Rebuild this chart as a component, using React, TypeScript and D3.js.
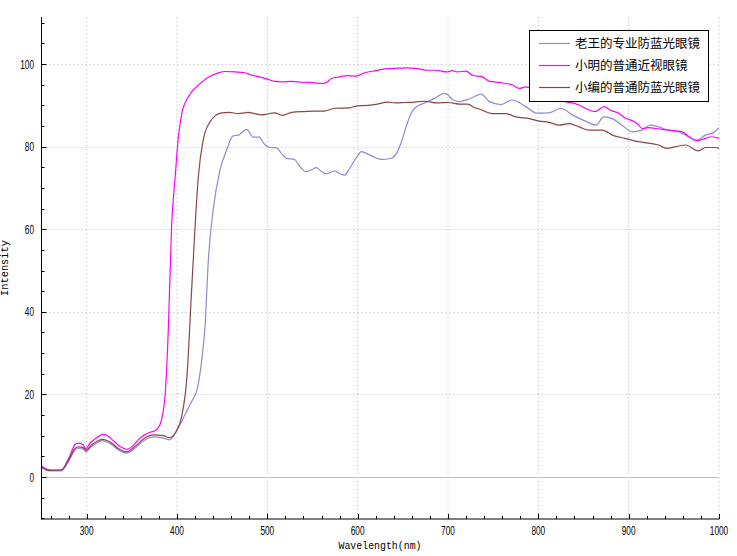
import React from "react";
import * as d3 from "d3";

const W = 737;
const H = 556;

const seriesNames = ["老王的专业防蓝光眼镜", "小明的普通近视眼镜", "小编的普通防蓝光眼镜"];
const seriesColors = ["#8c8cd0", "#ff00ff", "#8a4646"];

const xTicks = [300, 400, 500, 600, 700, 800, 900, 1000];
const yTicks = [0, 20, 40, 60, 80, 100];

// 老王的专业防蓝光眼镜
const laowangWl = [250, 255, 260, 272, 280, 287, 291, 297, 299, 305, 311, 317, 326, 335, 344, 353, 364, 374, 385, 392, 398, 405, 412, 418, 422, 427.4, 431, 434.7, 440, 447.6, 455, 462, 468, 477, 484.5, 491, 496, 503, 510, 516, 521, 530, 536, 543, 549, 554, 560, 565, 570, 574.5, 580, 585.5, 590, 594.7, 600, 604, 613, 620, 626, 637, 644, 649, 653.6, 658, 663, 674, 685, 696, 700, 705, 712.5, 721.6, 729, 736.5, 746, 758.5, 771, 786, 799, 812, 825, 837.6, 854, 863.6, 872.5, 881.7, 892.7, 903.7, 914.8, 924, 933, 944, 955, 966, 975.5, 984.8, 994, 1000];
const laowangVal = [2.3, 1.7, 1.5, 1.5, 3.8, 6.5, 6.9, 6.7, 6.1, 7.3, 8.2, 8.8, 8.1, 6.6, 5.8, 6.9, 8.9, 9.7, 9.4, 9.0, 10.6, 13.4, 16.5, 19.0, 21, 28.3, 36.4, 52.5, 64.6, 74.3, 79.2, 82.6, 82.8, 84.2, 82.3, 82.3, 80.8, 79.8, 79.7, 78.3, 77.2, 76.9, 75.2, 73.9, 74.4, 74.9, 74.0, 73.4, 73.8, 74.1, 73.5, 73.1, 74.3, 76, 77.8, 78.8, 78.0, 77.3, 76.9, 77.2, 78.8, 81.5, 84.8, 87.5, 89.3, 90.6, 91.7, 92.9, 92.5, 91.4, 90.9, 91.4, 92.1, 92.7, 90.9, 90.2, 91.3, 89.7, 88.1, 88.2, 89.3, 87.7, 86.0, 85.2, 87.2, 86.8, 85.2, 83.6, 84.0, 85.2, 84.8, 84.0, 83.6, 82.4, 81.6, 82.8, 83.4, 84.6];

// 小明的普通近视眼镜
const xiaomingWl = [250, 255, 260, 272, 280, 287, 291, 296, 299, 304, 310, 318, 323, 330, 337, 344, 350, 357, 364, 370, 377, 381, 384, 387, 390.5, 394, 398, 401.5, 405.3, 412.6, 423.6, 434.7, 445, 453, 465, 475, 483, 491, 501, 508, 516, 527, 538, 550, 562, 566, 571, 580, 589, 598, 608, 620, 633, 645, 655, 666, 677, 688, 698, 705, 710, 720, 727, 738, 746, 751, 764, 771, 779, 786, 795, 805, 815, 825, 830, 838, 845, 855, 863, 873, 880, 889, 897, 904, 910, 915, 922, 930, 944, 952, 959, 966, 975, 985, 992, 1000];
const xiaomingVal = [2.7, 2.0, 1.7, 1.7, 4.5, 7.8, 8.2, 7.8, 6.8, 8.3, 9.3, 10.3, 10.0, 8.7, 7.4, 6.7, 7.3, 9.0, 10.2, 10.8, 11.4, 12.6, 15, 20.3, 36.4, 60.6, 72.7, 82.4, 88, 92.1, 94.9, 96.8, 97.8, 98.2, 98.1, 97.9, 97.3, 96.9, 96.3, 95.8, 95.7, 95.8, 95.6, 95.5, 95.3, 95.6, 96.5, 96.9, 97.2, 97.1, 97.9, 98.4, 98.9, 99.0, 99.1, 98.9, 98.5, 98.5, 98.1, 98.4, 98.1, 98.3, 97.3, 96.9, 95.8, 95.7, 95.3, 95.0, 94.1, 94.5, 93.8, 93.0, 92.3, 91.4, 90.9, 90.6, 90.1, 89.0, 88.5, 89.7, 88.8, 88.1, 86.8, 86.3, 85.5, 84.4, 84.6, 84.4, 84.0, 83.8, 83.6, 82.6, 81.4, 82.0, 82.4, 82.0];

// 小编的普通防蓝光眼镜
const xiaobianWl = [250, 255, 260, 272, 280, 287, 291, 297, 299, 305, 311, 317, 326, 335, 344, 353, 364, 374, 385, 392, 399, 405, 411, 416, 420, 423.6, 429, 436.5, 443, 449.5, 458, 468, 475, 479, 486, 494, 500, 508, 517, 527, 541, 552, 563, 574, 591, 600, 611, 622, 633, 642, 652, 663, 674, 688, 700, 714, 722, 729, 736, 749, 764, 775, 790, 801, 812, 823, 834, 845, 856, 871, 882, 896, 911, 924, 933, 942, 952, 963, 977, 985, 996, 1000];
const xiaobianVal = [2.4, 1.8, 1.6, 1.7, 4.1, 6.9, 7.3, 7.0, 6.4, 7.7, 8.6, 9.1, 8.5, 6.9, 6.1, 7.3, 9.4, 10.2, 10.0, 9.5, 11.0, 14.5, 24.3, 44.5, 60.6, 72.7, 81.6, 86, 87.6, 88.2, 88.3, 88.0, 88.2, 88.3, 88.0, 87.7, 87.9, 88.2, 87.6, 88.3, 88.5, 88.6, 88.6, 89.3, 89.4, 89.9, 90.0, 90.3, 90.8, 90.6, 90.7, 90.8, 91.0, 90.6, 90.7, 90.3, 90.3, 89.5, 89.0, 88.0, 88.0, 87.2, 86.8, 86.2, 85.9, 85.2, 85.6, 84.8, 84.0, 84.0, 82.8, 82.0, 81.2, 80.8, 80.4, 79.6, 80.0, 80.4, 79.0, 79.8, 79.8, 79.6];

const seriesWl = [laowangWl, xiaomingWl, xiaobianWl];
const seriesVal = [laowangVal, xiaomingVal, xiaobianVal];

export default function App() {
  const left = 41.5;
  const right = 719;
  const top = 17;
  const bottom = 519;
  const x = d3.scaleLinear().domain([250, 1000]).range([left, right]);
  const y = d3.scaleLinear().domain([-10.17, 111.4]).range([bottom, top]);

  const xMinor = d3.range(260, 1001, 20).filter((v) => v % 100 !== 0);
  const yMinor = d3.range(-10, 111, 5).filter((v) => v % 20 !== 0);

  const line = d3
    .line<[number, number]>()
    .x((d) => x(d[0]))
    .y((d) => y(d[1]))
    .curve(d3.curveMonotoneX);

  const numFont = "'Liberation Sans', Arial, sans-serif";
  const monoFont = "'Liberation Mono', 'DejaVu Sans Mono', monospace";
  const cjkFont = "'Noto Sans CJK SC', sans-serif";

  const legX = 529;
  const legY = 30;
  const legW = 179;
  const legH = 71;
  const rowYs = [43.5, 65.5, 87.5];

  return (
    <svg
      width={W}
      height={H}
      style={{ position: "absolute", left: 0, top: 0, background: "#fff" }}
    >
      {/* grid */}
      {xTicks.map((t) => (
        <line
          key={"gx" + t}
          x1={x(t)}
          x2={x(t)}
          y1={top}
          y2={bottom}
          stroke="#b4b4b4"
          strokeWidth={1}
          strokeDasharray="1,3"
        />
      ))}
      {yTicks
        .filter((t) => t !== 0)
        .map((t) => (
          <line
            key={"gy" + t}
            x1={left}
            x2={right}
            y1={Math.round(y(t)) + 0.5}
            y2={Math.round(y(t)) + 0.5}
            stroke="#b4b4b4"
            strokeWidth={1}
            strokeDasharray="1,3"
          />
        ))}
      {/* zero line */}
      <line
        x1={left}
        x2={right}
        y1={Math.round(y(0)) + 0.5}
        y2={Math.round(y(0)) + 0.5}
        stroke="#c0c0c0"
        strokeWidth={1}
      />

      {/* series */}
      {seriesWl.map((wl, i) => {
        const pts: [number, number][] = wl.map((w, j) => [w, seriesVal[i][j]]);
        return (
          <path
            key={"s" + i}
            d={line(pts) || ""}
            fill="none"
            stroke={seriesColors[i]}
            strokeWidth={1.2}
          />
        );
      })}

      {/* axes */}
      <line x1={left} x2={left} y1={top} y2={bottom + 0.5} stroke="#000" strokeWidth={1} />
      <line x1={left} x2={right + 0.5} y1={bottom} y2={bottom} stroke="#000" strokeWidth={1} />
      {yTicks.map((t) => (
        <g key={"yt" + t}>
          <line
            x1={left}
            x2={left + 5}
            y1={Math.round(y(t)) + 0.5}
            y2={Math.round(y(t)) + 0.5}
            stroke="#000"
          />
          <text
            x={34}
            y={y(t) + 4.5}
            textAnchor="end"
            fontFamily={numFont}
            fontSize={12.5}
            textLength={String(t).length * 4.6}
            lengthAdjust="spacingAndGlyphs"
          >
            {t}
          </text>
        </g>
      ))}
      {yMinor.map((t) => (
        <line
          key={"ym" + t}
          x1={left}
          x2={left + 3}
          y1={Math.round(y(t)) + 0.5}
          y2={Math.round(y(t)) + 0.5}
          stroke="#000"
        />
      ))}
      {xTicks.map((t) => (
        <g key={"xt" + t}>
          <line
            x1={Math.round(x(t)) + 0.5}
            x2={Math.round(x(t)) + 0.5}
            y1={bottom}
            y2={bottom - 5}
            stroke="#000"
          />
          <text
            x={x(t)}
            y={535}
            textAnchor="middle"
            fontFamily={numFont}
            fontSize={12.5}
            textLength={String(t).length * 4.6}
            lengthAdjust="spacingAndGlyphs"
          >
            {t}
          </text>
        </g>
      ))}
      {xMinor.map((t) => (
        <line
          key={"xm" + t}
          x1={Math.round(x(t)) + 0.5}
          x2={Math.round(x(t)) + 0.5}
          y1={bottom}
          y2={bottom - 3}
          stroke="#000"
        />
      ))}

      {/* axis titles */}
      <text
        x={380}
        y={549}
        textAnchor="middle"
        fontFamily={monoFont}
        fontSize={10.5}
        textLength={83}
        lengthAdjust="spacingAndGlyphs"
      >
        Wavelength(nm)
      </text>
      <text
        transform="translate(8,268) rotate(-90)"
        textAnchor="middle"
        fontFamily={monoFont}
        fontSize={10.5}
        textLength={56}
        lengthAdjust="spacingAndGlyphs"
      >
        Intensity
      </text>

      {/* legend */}
      <rect
        x={legX + 0.5}
        y={legY + 0.5}
        width={legW}
        height={legH}
        fill="#fff"
        stroke="#000"
        strokeWidth={1}
      />
      {seriesNames.map((name, i) => (
        <g key={"lg" + i}>
          <line
            x1={539}
            x2={570}
            y1={rowYs[i]}
            y2={rowYs[i]}
            stroke={seriesColors[i]}
            strokeWidth={1.2}
          />
          <text
            x={575}
            y={rowYs[i] + 4.5}
            fontFamily={cjkFont}
            fontSize={12.5}
          >
            {name}
          </text>
        </g>
      ))}
    </svg>
  );
}
